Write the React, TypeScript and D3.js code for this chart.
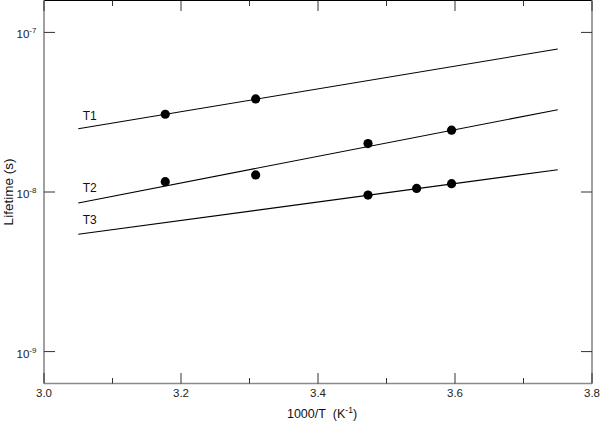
import React from "react";
import * as d3 from "d3";

// fitted lines run between these 1000/T values
const lineX = [3.05, 3.75];

const seriesNames = ["T1", "T2", "T3"];

// line end values (s) at lineX[0], lineX[1]
const t1Line = [2.49e-8, 7.87e-8];
const t2Line = [8.53e-9, 3.28e-8];
const t3Line = [5.43e-9, 1.38e-8];

// measured points
const t1X = [3.177, 3.309];
const t1Y = [3.07e-8, 3.83e-8];
const t2X = [3.177, 3.309, 3.473, 3.595];
const t2Y = [1.16e-8, 1.28e-8, 2.01e-8, 2.44e-8];
const t3X = [3.473, 3.544, 3.595];
const t3Y = [9.57e-9, 1.053e-8, 1.127e-8];

const xTicks = [3.0, 3.2, 3.4, 3.6, 3.8];
const xMinorTicks = [3.1, 3.3, 3.5, 3.7];
const yTicks = [1e-9, 1e-8, 1e-7];
const yTickExp = ["-9", "-8", "-7"];

const W = 600;
const H = 422;
const left = 44;
const right = 592;
const top = 0.5;
const bottom = 383.5;
const font = "'Liberation Sans', Arial, Helvetica, sans-serif";

const App = () => {
  const x = d3.scaleLinear().domain([3.0, 3.8]).range([left, right]);
  const y = d3
    .scaleLog()
    .domain([Math.pow(10, -9.2), Math.pow(10, -6.8)])
    .range([bottom, top]);

  const lines = [t1Line, t2Line, t3Line];
  const points = [
    t1X.map((d, i) => [d, t1Y[i]]),
    t2X.map((d, i) => [d, t2Y[i]]),
    t3X.map((d, i) => [d, t3Y[i]]),
  ];
  const labelOffsets = [-8.5, -11, -10];

  const lineGen = d3
    .line<number[]>()
    .x((d) => x(d[0]))
    .y((d) => y(d[1]));

  const axisColor = "#8a8a8a";
  const tickColor = "#333";

  return (
    <svg
      width={W}
      height={H}
      style={{ position: "absolute", left: 0, top: 0, background: "#fff" }}
      fontFamily={font}
    >
      {/* frame */}
      <line x1={left} x2={right} y1={top} y2={top} stroke="#000" strokeWidth={1} />
      <line x1={left} x2={left} y1={top} y2={bottom} stroke={axisColor} strokeWidth={1.6} />
      <line x1={right} x2={right} y1={top} y2={bottom} stroke={axisColor} strokeWidth={1.6} />
      <line x1={left} x2={right} y1={bottom} y2={bottom} stroke={axisColor} strokeWidth={1.6} />

      {/* x ticks, bottom and top */}
      {xTicks.map((t) => (
        <g key={"xt" + t}>
          <line x1={x(t)} x2={x(t)} y1={bottom} y2={bottom - 10.5} stroke={tickColor} strokeWidth={1} />
          <line x1={x(t)} x2={x(t)} y1={top} y2={top + 10.5} stroke={tickColor} strokeWidth={1} />
          <text x={x(t)} y={397} fontSize={11.5} textAnchor="middle" fill="#222">
            {d3.format(".1f")(t)}
          </text>
        </g>
      ))}
      {xMinorTicks.map((t) => (
        <g key={"xm" + t}>
          <line x1={x(t)} x2={x(t)} y1={bottom} y2={bottom - 5.5} stroke={tickColor} strokeWidth={1} />
          <line x1={x(t)} x2={x(t)} y1={top} y2={top + 5.5} stroke={tickColor} strokeWidth={1} />
        </g>
      ))}

      {/* y ticks, left and right */}
      {yTicks.map((t, i) => (
        <g key={"yt" + i}>
          <line x1={left} x2={left + 11} y1={y(t)} y2={y(t)} stroke={tickColor} strokeWidth={1} />
          <line x1={right} x2={right - 11} y1={y(t)} y2={y(t)} stroke={tickColor} strokeWidth={1} />
          <text x={16.5} y={y(t) + 6} fontSize={11.5} fill="#222">
            10
            <tspan dy={-5} fontSize={8}>
              {yTickExp[i]}
            </tspan>
          </text>
        </g>
      ))}

      {/* axis titles */}
      <text x={322} y={418} fontSize={12.5} textAnchor="middle" fill="#111">
        1000/T{"\u00a0\u00a0"}(K
        <tspan dy={-5} fontSize={8.5}>
          -1
        </tspan>
        <tspan dy={5}>)</tspan>
      </text>
      <text
        transform={`translate(13,192) rotate(-90)`}
        fontSize={13.5}
        textAnchor="middle"
        fill="#111"
      >
        Lifetime (s)
      </text>

      {/* fitted lines */}
      {lines.map((l, i) => (
        <path
          key={"l" + i}
          d={lineGen([
            [lineX[0], l[0]],
            [lineX[1], l[1]],
          ]) as string}
          fill="none"
          stroke="#000"
          strokeWidth={1.1}
        />
      ))}

      {/* series labels */}
      {lines.map((l, i) => (
        <text
          key={"lab" + i}
          x={x(lineX[0]) + 4.5}
          y={y(l[0]) + labelOffsets[i]}
          fontSize={12}
          fill="#111"
        >
          {seriesNames[i]}
        </text>
      ))}

      {/* data points */}
      {points.map((pts, i) =>
        pts.map((p, j) => (
          <circle key={"p" + i + "-" + j} cx={x(p[0])} cy={y(p[1])} r={4.6} fill="#000" />
        ))
      )}
    </svg>
  );
};

export default App;
